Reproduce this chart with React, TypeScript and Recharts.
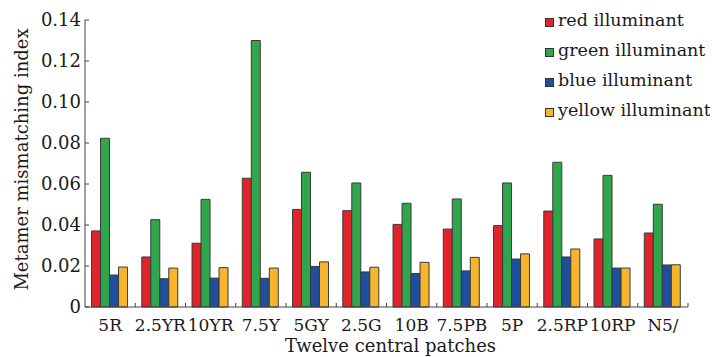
import React from 'react';
import { BarChart, Bar, XAxis, YAxis, Legend } from 'recharts';

const categories = ['5R', '2.5YR', '10YR', '7.5Y', '5GY', '2.5G', '10B', '7.5PB', '5P', '2.5RP', '10RP', 'N5/'];
const redValues = [0.0371, 0.0244, 0.0311, 0.0628, 0.0476, 0.047, 0.0403, 0.038, 0.0397, 0.0468, 0.0332, 0.0361];
const greenValues = [0.0823, 0.0426, 0.0525, 0.130, 0.0657, 0.0605, 0.0506, 0.0527, 0.0605, 0.0706, 0.0642, 0.0501];
const blueValues = [0.0156, 0.0138, 0.0141, 0.014, 0.0198, 0.0171, 0.0163, 0.0176, 0.0234, 0.0244, 0.019, 0.0205];
const yellowValues = [0.0195, 0.019, 0.0192, 0.019, 0.022, 0.0194, 0.0218, 0.0242, 0.0259, 0.0283, 0.019, 0.0206];
const yTicks = [0, 0.02, 0.04, 0.06, 0.08, 0.10, 0.12, 0.14];

const seriesNames = ['red illuminant', 'green illuminant', 'blue illuminant', 'yellow illuminant'];
const seriesKeys = ['red', 'green', 'blue', 'yellow'];
const seriesColors = ['#E3232C', '#2FA54C', '#1F4E9E', '#F6B52B'];

const data = categories.map((c, i) => ({
  name: c,
  red: redValues[i],
  green: greenValues[i],
  blue: blueValues[i],
  yellow: yellowValues[i],
}));

const FONT = '"DejaVu Serif", serif';
const TEXT = '#1a1a1a';
const W = 710;
const H = 349;
const MARGIN = { top: 12, right: 30, bottom: 0, left: 17 };
const Y_AXIS_W = 60;
const PLOT_W = W - MARGIN.left - MARGIN.right - Y_AXIS_W;
const BAND = PLOT_W / categories.length;
const X_TICK_MARGIN = 11;

const XTick = (props: any) => {
  const { x, y, payload } = props;
  const axisY = y - X_TICK_MARGIN;
  return (
    <g>
      <line x1={x + BAND / 2} x2={x + BAND / 2} y1={axisY} y2={axisY - 4} stroke="#444" strokeWidth={1} />
      <text x={x} y={y} dy="0.74em" textAnchor="middle" fontFamily={FONT} fontSize={17} fill={TEXT}>
        {payload.value}
      </text>
    </g>
  );
};

const LegendContent = () => (
  <div style={{ fontFamily: FONT, fontSize: 17.5, color: TEXT }}>
    {seriesNames.map((n, i) => (
      <div key={n} style={{ display: 'flex', alignItems: 'center', height: 30, whiteSpace: 'nowrap' }}>
        <span
          style={{
            display: 'inline-block',
            width: 7,
            height: 7,
            background: seriesColors[i],
            border: '1px solid #333',
            marginRight: 4,
            marginTop: 4,
          }}
        />
        <span>{n}</span>
      </div>
    ))}
  </div>
);

export default function App() {
  return (
    <BarChart
      width={W}
      height={H}
      data={data}
      margin={MARGIN}
      barCategoryGap="13%"
      barGap={0}
      style={{ background: '#fff' }}
    >
      <XAxis
        dataKey="name"
        height={H - MARGIN.top - MARGIN.bottom - 287}
        tickLine={false}
        tickSize={0}
        tickMargin={X_TICK_MARGIN}
        tick={<XTick />}
        interval={0}
        axisLine={{ stroke: '#444' }}
        label={{
          value: 'Twelve central patches',
          position: 'insideBottom',
          offset: 5,
          dx: 4,
          style: { fontFamily: FONT, fontSize: 18, fill: TEXT },
        }}
      />
      <YAxis
        width={Y_AXIS_W}
        domain={[0, 0.14]}
        ticks={yTicks}
        interval={0}
        tickFormatter={(v: number) => (v === 0 ? '0' : v.toFixed(2))}
        tickSize={-4}
        tickMargin={8}
        tick={{ fontFamily: FONT, fontSize: 18, fill: TEXT }}
        tickLine={{ stroke: '#444' }}
        axisLine={{ stroke: '#444' }}
        label={{
          value: 'Metamer mismatching index',
          angle: -90,
          position: 'center',
          dx: -33,
          dy: -4,
          style: { fontFamily: FONT, fontSize: 18, fill: TEXT, textAnchor: 'middle' },
        }}
      />
      <Legend
        layout="vertical"
        align="center"
        verticalAlign="middle"
        content={<LegendContent />}
        wrapperStyle={{ top: -3, left: 537, width: 180 }}
      />
      {seriesKeys.map((k, i) => (
        <Bar
          key={k}
          dataKey={k}
          name={seriesNames[i]}
          fill={seriesColors[i]}
          stroke="#3a3a3a"
          strokeWidth={1}
          isAnimationActive={false}
        />
      ))}
    </BarChart>
  );
}
